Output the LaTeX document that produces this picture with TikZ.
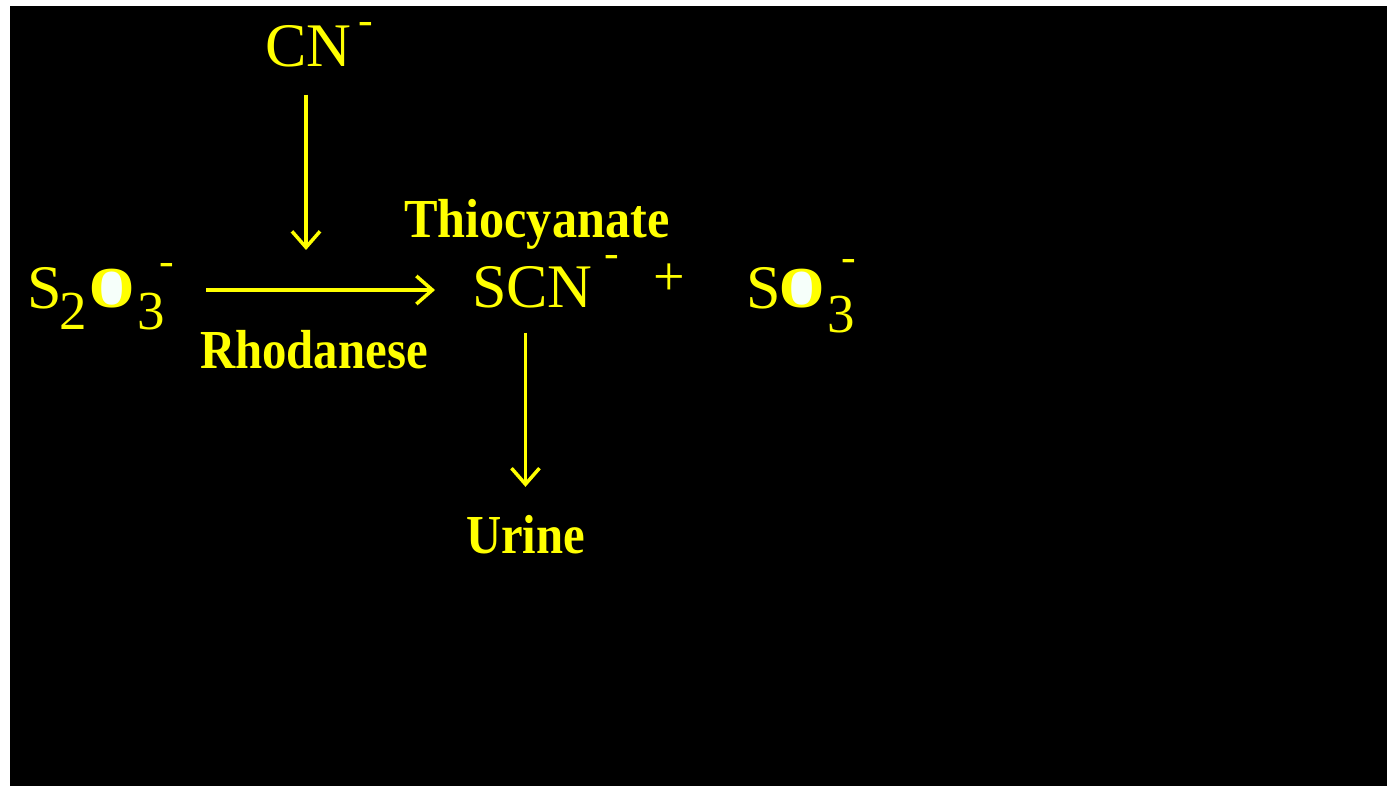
\documentclass[tikz,border=0pt]{standalone}
\usepackage{fontspec}
\usepackage{graphicx}
\setmainfont{Liberation Serif}
\usetikzlibrary{arrows.meta,calc}
\pgfdeclarelayer{bg}
\pgfsetlayers{bg,main}
\definecolor{ink}{RGB}{255,255,0}
\definecolor{glow}{RGB}{246,255,250}

\begin{document}
\begin{tikzpicture}[x=0.5pt,y=-0.5pt,
  txt/.style={inner sep=0pt, outer sep=0pt, text=ink},
  formula/.style={txt, font=\fontsize{31pt}{31pt}\selectfont},
  index/.style={txt, font=\fontsize{27.5pt}{27.5pt}\selectfont},
  charge/.style={txt, font=\fontsize{22pt}{22pt}\selectfont},
  oxy/.style={txt, font=\fontsize{29pt}{29pt}\selectfont\bfseries},
  enzyme/.style={txt, font=\fontsize{27.5pt}{27.5pt}\selectfont\bfseries},
  arr/.style={draw=ink, line width=1.75pt,
    -{Straight Barb[length=8pt, width=14pt]}},
]
\useasboundingbox (0,0) rectangle (1387,786);
\begin{pgfonlayer}{bg}
  \fill[white] (0,0) rectangle (1387,786);
  \fill[black] (10,6) rectangle (1387,786);
\end{pgfonlayer}

% cyanide
\node[formula, anchor=base west] (cn) at (265,67) {CN};
\node[charge, anchor=base] (cnq) at (366,35) {-};

% thiosulfate
\node[formula, anchor=base west] (s2o3) at (27,308) {S};
\node[index, anchor=base] (s2o3i) at (73,329) {2};
\node[oxy, anchor=base] (s2o3o) at (112,307) {O};
\node[index, anchor=base] (s2o3j) at (151,329) {3};
\node[charge, anchor=base] (s2o3q) at (167,276) {-};

% products
\node[formula, anchor=base west] (scn) at (472,307) {SCN};
\node[charge, anchor=base] (scnq) at (612,268) {-};
\node[txt, font=\fontsize{28pt}{28pt}\selectfont, anchor=base] (plus) at (669,296) {+};
\node[formula, anchor=base west] (so3) at (746,308) {S};
\node[oxy, anchor=base] (so3o) at (802,307) {O};
\node[index, anchor=base] (so3j) at (841,333) {3};
\node[charge, anchor=base] (so3q) at (849,272) {-};

% labels
\node[enzyme, anchor=base west] (thio) at (404,238)
  {\raisebox{0pt}[\height][0pt]{\scalebox{0.914}[1]{Thiocyanate}}};
\node[enzyme, anchor=base west] (rhod) at (200,368) {\scalebox{0.887}[1]{Rhodanese}};
\node[enzyme, anchor=base west] (urine) at (466,553) {\scalebox{0.885}[1]{Urine}};

% bright centres of the oxygen letters
\begin{pgfonlayer}{bg}
  \foreach \o in {s2o3o,so3o}
    \fill[glow] ($(\o.base)+(0,-19.5)$) ellipse [x radius=13, y radius=18.5];
\end{pgfonlayer}

% reaction arrows
\coordinate (join) at (306,290);
\draw[arr, shorten <=16pt, shorten >=18.5pt] (s2o3q.east |- join) -- (scn.west |- join);
\draw[arr, shorten <=13.5pt, shorten >=20pt] (cn.south -| join) -- (join);
\draw[arr, shorten <=12.5pt, shorten >=14pt] (urine.north |- scn.south) -- (urine.north);
\end{tikzpicture}
\end{document}
